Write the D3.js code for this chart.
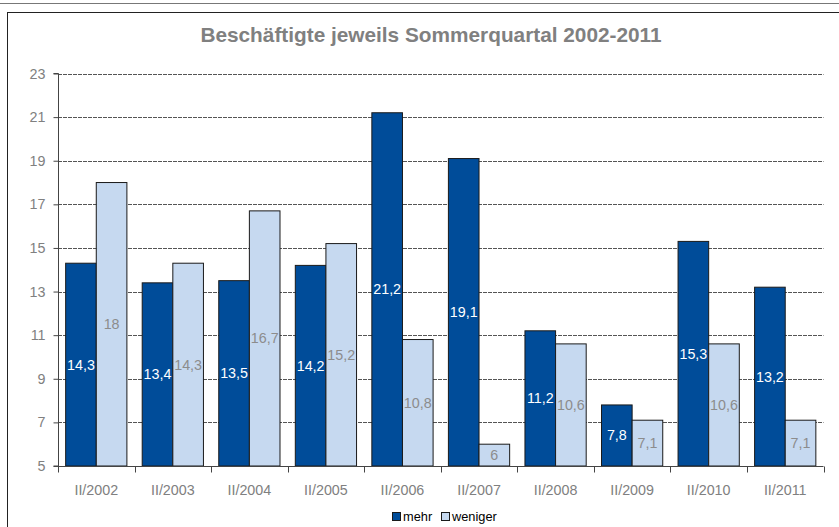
<!DOCTYPE html>
<html><head><meta charset="utf-8">
<script src="https://cdn.jsdelivr.net/npm/d3@7"></script>
<style>html,body{margin:0;padding:0;background:#fff;}svg{display:block;font-family:"Liberation Sans",Arial,sans-serif;}</style>
</head><body>
<script>
const categories = ["II/2002","II/2003","II/2004","II/2005","II/2006","II/2007","II/2008","II/2009","II/2010","II/2011"];
const mehr = [14.3,13.4,13.5,14.2,21.2,19.1,11.2,7.8,15.3,13.2];
const weniger = [18,14.3,16.7,15.2,10.8,6,10.6,7.1,10.6,7.1];
const seriesNames = ["mehr","weniger"];
const yTicks = [5,7,9,11,13,15,17,19,21,23];
const title = "Beschäftigte jeweils Sommerquartal 2002-2011";

(function(){
const W = 839, H = 527;
const svg = d3.select("body").append("svg").attr("width", W).attr("height", H);

// outer frames
svg.append("line").attr("x1",0).attr("x2",W).attr("y1",3.5).attr("y2",3.5).attr("stroke","#777").attr("stroke-width",1);
svg.append("rect").attr("x",7.5).attr("y",12.5).attr("width",W).attr("height",H).attr("fill","none").attr("stroke","#222").attr("stroke-width",1);

const pLeft = 58, pRight = 823.5, pTop = 73.5, pBottom = 466;
const x = d3.scaleBand().domain(categories).range([pLeft,pRight]).paddingInner(0.2).paddingOuter(0.1);
const sub = d3.scaleBand().domain(seriesNames).range([0,x.bandwidth()]);
const y = d3.scaleLinear().domain([5,23]).range([pBottom,pTop]);

svg.append("text").attr("x",431).attr("y",42).attr("text-anchor","middle")
  .attr("font-size",20.8).attr("font-weight","bold").attr("fill","#808080").text(title);

// gridlines
svg.append("g").selectAll("line").data(yTicks.filter(d=>d>5)).join("line")
  .attr("x1",pLeft).attr("x2",pRight).attr("y1",d=>Math.round(y(d))+0.5).attr("y2",d=>Math.round(y(d))+0.5)
  .attr("stroke","#555").attr("stroke-dasharray","4,1");

// bars
const colors = {mehr:"#004C99", weniger:"#C6D9F0"};
const series = [{name:"mehr", vals:mehr},{name:"weniger", vals:weniger}];
series.forEach(s=>{
  const g = svg.append("g");
  g.selectAll("rect").data(s.vals).join("rect")
    .attr("x",(d,i)=>x(categories[i])+sub(s.name))
    .attr("y",d=>y(d))
    .attr("width",sub.bandwidth())
    .attr("height",d=>y(5)-y(d))
    .attr("fill",colors[s.name]).attr("stroke","#1a1a1a").attr("stroke-width",1);
  g.selectAll("text").data(s.vals).join("text")
    .attr("x",(d,i)=>x(categories[i])+sub(s.name)+sub.bandwidth()/2)
    .attr("y",d=>(y(d)+y(5))/2+5)
    .attr("text-anchor","middle").attr("font-size",14.3)
    .attr("fill", s.name==="mehr" ? "#ffffff" : "#8c8c8c")
    .text(d=>String(d).replace(".",","));
});

// y axis
const yAxis = d3.axisLeft(y).tickValues(yTicks).tickSize(5).tickPadding(8).tickFormat(d=>d);
const yg = svg.append("g").attr("transform",`translate(${pLeft+0.5},0)`).call(yAxis);
yg.select(".domain").attr("stroke","#444").attr("d",`M-5,${y(23)}H0V${y(5)}H-5`);
yg.selectAll(".tick line").attr("stroke","#444");
yg.selectAll("text").attr("font-size",14.3).attr("fill","#808080").attr("font-family","Liberation Sans, Arial, sans-serif");

// x axis
const xg = svg.append("g").attr("transform",`translate(0,${pBottom+0.5})`);
xg.append("line").attr("x1",pLeft).attr("x2",pRight).attr("stroke","#444");
const bounds = categories.map(c=>x(c)-x.step()*x.paddingInner()/2).concat([pRight]);
xg.selectAll("line.t").data(bounds).join("line").attr("class","t")
  .attr("x1",d=>Math.round(d)+0.5).attr("x2",d=>Math.round(d)+0.5).attr("y1",0).attr("y2",6).attr("stroke","#444");
xg.selectAll("text").data(categories).join("text")
  .attr("x",d=>x(d)+x.bandwidth()/2).attr("y",28.5).attr("text-anchor","middle")
  .attr("font-size",14.3).attr("fill","#808080").text(d=>d);

// legend
const lg = svg.append("g");
const items = [{name:"mehr", x:392},{name:"weniger", x:441}];
items.forEach(it=>{
  lg.append("rect").attr("x",it.x+0.5).attr("y",512.5).attr("width",8).attr("height",8)
    .attr("fill",colors[it.name]).attr("stroke","#1a1a1a");
  lg.append("text").attr("x",it.x+11).attr("y",521).attr("font-size",12.8).attr("fill","#000").text(it.name);
});
})();
</script>
</body></html>
